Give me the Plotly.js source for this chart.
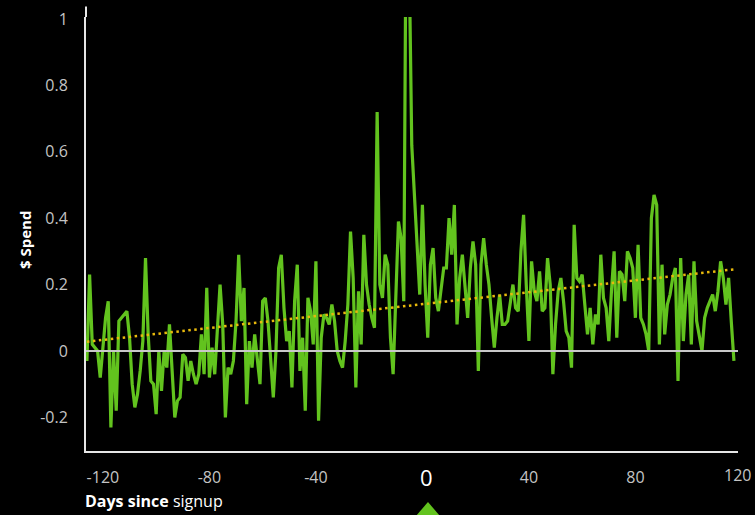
<!DOCTYPE html>
<html>
<head>
<meta charset="utf-8">
<script src="https://cdn.plot.ly/plotly-3.0.1.min.js"></script>
<style>
  html, body { margin: 0; padding: 0; background: #000; }
  #chart { width: 755px; height: 515px; }
</style>
</head>
<body>
<div id="chart"></div>
<script>
// ---- Data ----
const firstDay = -126;
// Daily spend, in consecutive day order starting at firstDay
const spendA = [ // days -126 .. -96
  -0.03, 0.23, 0.02, 0.01, 0.00, -0.08, 0.02, 0.10, 0.15, -0.23,
  0.00, -0.18, 0.09, 0.10, 0.11, 0.12, 0.04, -0.10, -0.17, -0.13,
  -0.06, 0.03, 0.28, 0.05, -0.09, -0.10, -0.19, 0.00, -0.12, 0.00,
  -0.05
];
const spendB = [ // days -95 .. -65
  0.08, -0.06, -0.20, -0.15, -0.14, -0.01, -0.02, -0.09, -0.03, -0.07,
  -0.10, -0.07, 0.05, -0.07, 0.19, -0.08, 0.01, -0.07, 0.05, 0.20,
  0.08, -0.20, -0.05, -0.07, -0.03, 0.09, 0.29, 0.09, 0.19, -0.16,
  0.03
];
const spendC = [ // days -64 .. -34
  -0.05, 0.05, -0.02, -0.10, 0.15, 0.16, 0.09, -0.03, -0.14, 0.00,
  0.25, 0.29, 0.13, 0.03, 0.06, -0.11, 0.15, 0.26, -0.06, 0.04,
  -0.18, 0.16, 0.12, 0.02, 0.27, -0.21, 0.04, 0.11, 0.10, 0.08,
  0.14
];
const spendD = [ // days -33 .. -5
  0.09, 0.00, -0.03, -0.05, 0.03, 0.14, 0.36, 0.22, -0.11, 0.18,
  0.02, 0.35, 0.20, 0.14, 0.10, 0.07, 0.72, 0.20, 0.16, 0.29,
  0.26, 0.04, -0.07, 0.14, 0.39, 0.34, 0.15, 1.5, 1.2
];
const spendE = [ // days -4 .. 26
  0.62, 0.47, 0.32, 0.17, 0.44, 0.20, 0.04, 0.26, 0.31, 0.16,
  0.12, 0.19, 0.25, 0.25, 0.40, 0.29, 0.44, 0.08, 0.22, 0.29,
  0.20, 0.10, 0.25, 0.33, 0.26, -0.06, 0.26, 0.34, 0.26, 0.20,
  0.10
];
const spendF = [ // days 27 .. 57
  0.01, 0.10, 0.17, 0.08, 0.08, 0.09, 0.15, 0.20, 0.13, 0.12,
  0.30, 0.41, 0.20, 0.03, 0.27, 0.18, 0.15, 0.24, 0.12, 0.13,
  0.28, 0.20, -0.07, 0.08, 0.18, 0.22, 0.15, 0.06, 0.04, -0.05,
  0.38
];
const spendG = [ // days 58 .. 88
  0.22, 0.21, 0.23, 0.14, 0.05, 0.13, 0.02, 0.11, 0.08, 0.29,
  0.16, 0.13, 0.03, 0.18, 0.30, 0.04, 0.24, 0.23, 0.15, 0.30,
  0.28, 0.25, 0.10, 0.32, 0.10, 0.08, 0.05, 0.00, 0.40, 0.47,
  0.44
];
const spendH = [ // days 89 .. 117
  0.02, 0.26, 0.05, 0.14, 0.17, 0.22, 0.25, -0.09, 0.28, 0.03,
  0.17, 0.23, 0.02, 0.27, 0.09, 0.04, 0.00, 0.10, 0.13, 0.15,
  0.17, 0.12, 0.18, 0.27, 0.22, 0.14, 0.22, 0.09, -0.03
];
const trendDays = [-126, 117];
const trendSpend = [0.028, 0.246];

const xTickVals = [-120, -80, -40, 40, 80];
const xTickText = ['-120', '-80', '-40', '40', '80'];
const xEdgeLabel = '120';
const yTickVals = [-0.2, 0, 0.2, 0.4, 0.6, 0.8, 1];
const yTickText = ['-0.2', '0', '0.2', '0.4', '0.6', '0.8', '1'];

// ---- Build traces ----
const spend = [].concat(spendA, spendB, spendC, spendD, spendE, spendF, spendG, spendH);
const days = spend.map((_, i) => firstDay + i);

const traces = [
  {
    x: days, y: spend, type: 'scatter', mode: 'lines',
    line: { color: '#62c31e', width: 3.2 },
    hoverinfo: 'skip'
  },
  {
    x: trendDays, y: trendSpend, type: 'scatter', mode: 'lines',
    line: { color: '#e8b90c', width: 2.5, dash: '2.5px,3.5px' },
    hoverinfo: 'skip'
  }
];

const FONT = 'Open Sans, Noto Sans, sans-serif';
const tickFont = { family: FONT, size: 16, color: '#c4c4c4' };

const layout = {
  width: 755, height: 515,
  paper_bgcolor: '#000', plot_bgcolor: '#000',
  margin: { l: 86, r: 17, t: 17, b: 64 },
  showlegend: false,
  xaxis: {
    range: [-126.35, 118.53],
    tickvals: xTickVals, ticktext: xTickText,
    showgrid: false, zeroline: false,
    showline: true, linecolor: '#e6e6e6', linewidth: 2,
    ticks: '', tickfont: tickFont, ticklabelstandoff: 11,
    fixedrange: true
  },
  yaxis: {
    range: [-0.3012, 1.006],
    tickvals: yTickVals, ticktext: yTickText,
    showgrid: false, zeroline: false,
    showline: true, linecolor: '#e6e6e6', linewidth: 2,
    ticks: '', tickfont: tickFont, ticklabelstandoff: 13,
    fixedrange: true
  },
  shapes: [
    { type: 'line', xref: 'paper', yref: 'y', x0: 0, x1: 1, y0: 0, y1: 0,
      line: { color: '#c8c8c8', width: 2 }, layer: 'above' },
    { type: 'line', xref: 'paper', yref: 'paper', x0: 0, x1: 0, y0: 1, y1: 1.024,
      line: { color: '#e6e6e6', width: 2 } },
    { type: 'path', xref: 'paper', yref: 'paper',
      path: 'M 0.5061,-0.1498 L 0.5245,-0.1175 L 0.5429,-0.1498 Z',
      fillcolor: '#62c31e', line: { width: 0 } }
  ],
  annotations: [
    { text: '0', xref: 'paper', yref: 'paper', x: 0.523, y: -0.0599,
      xanchor: 'center', yanchor: 'middle', showarrow: false,
      font: { family: FONT, size: 22, color: '#ffffff' } },
    { text: xEdgeLabel, xref: 'paper', yref: 'paper', x: 0.999, y: -0.0553,
      xanchor: 'center', yanchor: 'middle', showarrow: false,
      font: tickFont },
    { text: '<b>Days since</b> signup', xref: 'paper', yref: 'paper', x: -0.004, y: -0.1152,
      xanchor: 'left', yanchor: 'middle', showarrow: false,
      font: { family: FONT, size: 16, color: '#ffffff' } },
    { text: '<b>$ Spend</b>', xref: 'paper', yref: 'paper', x: -0.0936, y: 0.486,
      xanchor: 'center', yanchor: 'middle', textangle: -90, showarrow: false,
      font: { family: FONT, size: 15, color: '#ffffff' } }
  ]
};

Plotly.newPlot('chart', traces, layout, { staticPlot: true, displayModeBar: false });
</script>
</body>
</html>
